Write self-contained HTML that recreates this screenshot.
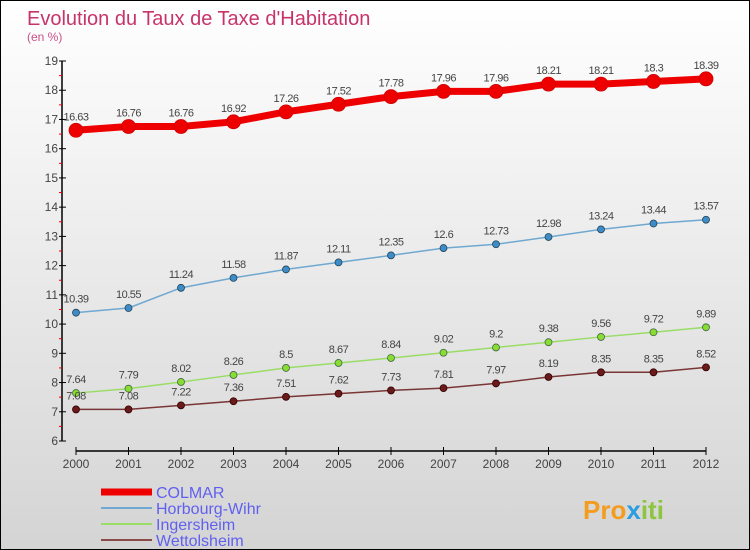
<!DOCTYPE html>
<html><head><meta charset="utf-8"><style>
html,body{margin:0;padding:0}
body{width:750px;height:550px;overflow:hidden;font-family:"Liberation Sans",sans-serif}
#c{position:absolute;left:0;top:0;width:748px;height:548px;border:1px solid #000;background:linear-gradient(#ffffff,#d4d4d4)}
</style></head><body>
<div id="c">
<svg id="s" width="748" height="548" xmlns="http://www.w3.org/2000/svg" style="position:absolute;left:0;top:0">
<text x="26" y="24" font-size="20" fill="#c8336a">Evolution du Taux de Taxe d'Habitation</text>
<text x="26" y="40" font-size="12" fill="#c8508a">(en %)</text>
<g id="axes"></g><g id="series"></g><g id="legend"></g>
<text x="582" y="518" font-size="26" font-weight="bold" fill="#f39c1f">Pro<tspan fill="#2a9de0">x</tspan><tspan fill="#8cc63f">iti</tspan></text>
</svg></div>
<script>
const years=[2000,2001,2002,2003,2004,2005,2006,2007,2008,2009,2010,2011,2012];
const colmar=[16.63,16.76,16.76,16.92,17.26,17.52,17.78,17.96,17.96,18.21,18.21,18.3,18.39];
const horbourg=[10.39,10.55,11.24,11.58,11.87,12.11,12.35,12.6,12.73,12.98,13.24,13.44,13.57];
const ingersheim=[7.64,7.79,8.02,8.26,8.5,8.67,8.84,9.02,9.2,9.38,9.56,9.72,9.89];
const wettolsheim=[7.08,7.08,7.22,7.36,7.51,7.62,7.73,7.81,7.97,8.19,8.35,8.35,8.52];
const yTicks=[6,7,8,9,10,11,12,13,14,15,16,17,18,19];
const seriesNames=["COLMAR","Horbourg-Wihr","Ingersheim","Wettolsheim"];
const NS="http://www.w3.org/2000/svg";
function X(i){return 75+i*52.5;}
function Y(v){return 440-(v-6)*380/13;}
function mk(p,t,a){const e=document.createElementNS(NS,t);for(const k in a)e.setAttribute(k,a[k]);p.appendChild(e);return e;}
const ax=document.getElementById('axes');
let yl=mk(ax,'line',{x1:61,y1:Y(19),x2:61,y2:Y(6),stroke:'#000','stroke-width':1.5});


yTicks.forEach(v=>{
 mk(ax,'line',{x1:58,y1:Y(v),x2:65,y2:Y(v),stroke:'#000'});
 if(v<19)mk(ax,'line',{x1:58,y1:Y(v+0.5),x2:61,y2:Y(v+0.5),stroke:'#e00'});
 const t=mk(ax,'text',{x:57,y:Y(v)+4,'font-size':12,fill:'#444','text-anchor':'end'});
 t.textContent=v;
 
 
});
let xl=mk(ax,'line',{x1:X(0),y1:450,x2:X(12),y2:450,stroke:'#000','stroke-width':1.5});


years.forEach((y,i)=>{
 mk(ax,'line',{x1:X(i),y1:446,x2:X(i),y2:454,stroke:'#000'});
 const t=mk(ax,'text',{x:X(i),y:467,'font-size':12,fill:'#444','text-anchor':'middle'});
 t.textContent=y;
 
 
});
const sg=document.getElementById('series');
function draw(data,name,color,dot,w,r,dotStroke){
 const g=mk(sg,'g',{});
 
 
 mk(g,'polyline',{points:data.map((v,i)=>X(i)+','+Y(v)).join(' '),fill:'none',stroke:color,'stroke-width':w,'stroke-linejoin':'round'});
 data.forEach((v,i)=>{
  const c=mk(g,'circle',{cx:X(i),cy:Y(v),r:r,fill:dot,stroke:dotStroke,'stroke-width':0.8});
  
  
  const t=mk(g,'text',{x:X(i),y:Y(v)-10,'font-size':11,fill:'#444','text-anchor':'middle','letter-spacing':'-0.5'});
  t.textContent=v;
  
  
 });
}
draw(colmar,'colmar','#ee0000','#ee0000',7,7,'#c00');
draw(horbourg,'horbourg-wihr','#6fa8d0','#3d8cc8',1.5,3.5,'#245');
draw(ingersheim,'ingersheim','#99dd66','#88dd33',1.5,3.5,'#464');
draw(wettolsheim,'wettolsheim','#7a3636','#6a1a1a',1.5,3.5,'#300');
const lg=document.getElementById('legend');
const lc=['#ee0000','#6fa8d0','#99dd66','#8a4a4a'],lw=[7,2,2,2];
seriesNames.forEach((n,i)=>{
 const y=491+i*16;
 const g=mk(lg,'g',{});
 
 
 mk(g,'line',{x1:100,y1:y,x2:151,y2:y,stroke:lc[i],'stroke-width':lw[i]});
 const t=mk(g,'text',{x:155,y:y+6,'font-size':16,fill:'#6060f0'});
 t.textContent=n;
});
</script>
</body></html>
